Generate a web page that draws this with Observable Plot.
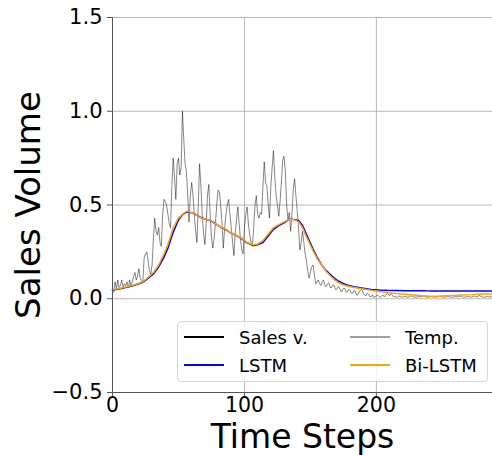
<!DOCTYPE html>
<html><head><meta charset="utf-8">
<script src="https://cdn.jsdelivr.net/npm/d3@7"></script>
<script src="https://cdn.jsdelivr.net/npm/@observablehq/plot@0.6"></script>
<style>
html,body{margin:0;padding:0;background:#fff;}
#wrap{position:relative;width:492px;height:455px;font-family:"DejaVu Sans",sans-serif;}
.legend{position:absolute;left:177px;top:321px;width:311px;height:61px;border:1px solid #d6d6d6;border-radius:4px;background:rgba(255,255,255,0.8);box-sizing:border-box;font-size:18px;color:#000;}
.item{position:absolute;height:22px;display:flex;align-items:center;white-space:nowrap;}
.sw{display:inline-block;width:40px;height:2px;margin-right:15px;}
</style>
</head><body>
<div id="wrap"></div>
<script>
// Noisy observed series (Sales v.)
const salesT = [];
const salesV = [
0.03,0.04,0.09,0.05,0.10,0.06,0.07,0.10,0.06,0.08,
0.07,0.09,0.06,0.10,0.07,0.09,0.12,0.14,0.10,0.12,
0.16,0.11,0.10,0.09,0.22,0.24,0.25,0.20,0.15,0.13,
0.18,0.32,0.43,0.36,0.34,0.38,0.30,0.28,0.45,0.53,
0.52,0.50,0.45,0.40,0.38,0.60,0.75,0.65,0.53,0.72,
0.75,0.66,0.70,1.00,0.85,0.72,0.68,0.55,0.41,0.55,
0.62,0.55,0.45,0.36,0.30,0.50,0.72,0.60,0.45,0.35,
0.29,0.40,0.55,0.61,0.45,0.33,0.27,0.32,0.40,0.50,
0.58,0.57,0.50,0.40,0.27,0.38,0.45,0.50,0.53,0.45,
0.38,0.30,0.23,0.35,0.42,0.49,0.40,0.32,0.26,0.24,
0.38,0.45,0.49,0.40,0.34,0.30,0.28,0.38,0.50,0.55,
0.45,0.43,0.46,0.45,0.60,0.73,0.62,0.60,0.50,0.43,
0.60,0.70,0.79,0.65,0.55,0.50,0.44,0.52,0.62,0.74,
0.76,0.68,0.50,0.42,0.46,0.36,0.45,0.58,0.64,0.55,
0.47,0.38,0.26,0.30,0.36,0.30,0.24,0.20,0.15,0.11,
0.14,0.17,0.18,0.13,0.08,0.09,0.10,0.08,0.07,0.09,
0.10,0.07,0.065,0.08,0.085,0.06,0.06,0.075,0.07,0.05,
0.05,0.065,0.06,0.04,0.04,0.055,0.055,0.035,0.035,0.05,
0.045,0.03,0.03,0.045,0.04,0.02,0.02,0.04,0.045,0.053,
0.03,0.02,0.015,0.03,0.025,0.012,0.01,0.02,0.007,0.01,
0.015,0.02,0.012,0.008,0.015,0.02,0.01,0.02,0.028,0.025,
0.015,0.028,0.02,0.01,0.012,0.008,0.01,0.015,0.012,0.008,
0.01
];
for (let i = 0; i < salesV.length; i++) salesT.push(i);
const salesT2 = [222,224,226,228,230,232,234,236,238,240,242,244,246,248,250,252,254,256,258,260,262,264,266,268,270,272,274,276,278,280,282,284,286,288];
const salesV2 = [0.012,0.008,0.015,0.01,0.008,0.012,0.01,0.015,0.008,0.01,0.012,0.008,0.01,0.014,0.01,0.008,0.012,0.01,0.008,0.012,0.01,0.015,0.008,0.01,0.012,0.008,0.015,0.01,0.018,0.01,0.008,0.012,0.01,0.01];

// Model predictions
const predT  = [0,5,10,16,20,24,31,35,39,42,46,50,53,56,61,66,70,74,78,82,86,89,93,97,102,107,110,114,118,122,126,130,134,138,141,144,146,149,152,155,159,162,165,168,171,174,177,183,190,196,202,208,215,222,228,235,240,246,253,259,265,272,278,283,288];
const lstmV  = [0.045,0.052,0.060,0.070,0.080,0.092,0.132,0.170,0.222,0.270,0.355,0.420,0.448,0.462,0.458,0.436,0.425,0.418,0.400,0.382,0.368,0.354,0.340,0.325,0.298,0.284,0.288,0.300,0.335,0.370,0.390,0.405,0.425,0.422,0.418,0.392,0.360,0.312,0.265,0.222,0.175,0.150,0.130,0.110,0.095,0.084,0.075,0.064,0.056,0.050,0.047,0.045,0.044,0.043,0.043,0.043,0.042,0.042,0.042,0.042,0.042,0.042,0.042,0.042,0.042];
const biLstmV= [0.048,0.055,0.063,0.073,0.082,0.096,0.140,0.180,0.240,0.290,0.380,0.430,0.450,0.466,0.460,0.434,0.425,0.420,0.400,0.384,0.370,0.354,0.340,0.327,0.300,0.288,0.292,0.310,0.345,0.380,0.395,0.410,0.425,0.420,0.410,0.380,0.345,0.300,0.256,0.215,0.176,0.145,0.123,0.102,0.087,0.076,0.069,0.060,0.052,0.045,0.039,0.034,0.028,0.024,0.020,0.016,0.013,0.013,0.016,0.018,0.020,0.022,0.025,0.025,0.025];

const xTicks = [0, 100, 200];
const yTicks = [-0.5, 0, 0.5, 1.0, 1.5];
const legendItems = [
  {label: "Sales v.", color: "#000000"},
  {label: "Temp.", color: "#a0a0a0"},
  {label: "LSTM", color: "#0000ff"},
  {label: "Bi-LSTM", color: "#ffa500"}
];

const salesData = salesT.map((t, i) => ({t, v: salesV[i]}))
  .concat(salesT2.map((t, i) => ({t, v: salesV2[i]})));
const predData = predT.map((t, i) => ({t, lstm: lstmV[i], bi: biLstmV[i]}));

const chart = Plot.plot({
  width: 492, height: 455,
  marginLeft: 112, marginRight: 0, marginTop: 17, marginBottom: 63,
  style: {fontFamily: "DejaVu Sans", background: "white", color: "black"},
  x: {domain: [0, 288]},
  y: {domain: [-0.5, 1.5]},
  marks: [
    Plot.gridX(xTicks, {stroke: "#b0b0b0", strokeOpacity: 0.9}),
    Plot.gridY(yTicks, {stroke: "#b0b0b0", strokeOpacity: 0.9}),
    Plot.line(salesData, {x: "t", y: "v", stroke: "#000", strokeOpacity: 0.6, strokeWidth: 0.8}),
    Plot.line(predData, {x: "t", y: "lstm", stroke: "#0000ff", strokeWidth: 1.5}),
    Plot.line(predData, {x: "t", y: "bi", stroke: "#ffa500", strokeWidth: 1.5}),
    Plot.ruleX([0], {stroke: "#555"}),
    Plot.ruleY([-0.5], {stroke: "#555"}),
    Plot.axisX({ticks: xTicks, tickSize: 5, tickPadding: 0, fontSize: 20.5, label: null, stroke: "#555"}),
    Plot.axisX({ticks: [], label: "Time Steps", labelAnchor: "center", labelOffset: 55, fontSize: 33, labelArrow: false}),
    Plot.axisY({ticks: yTicks, tickFormat: d3.format(".1f"), tickSize: 5, tickPadding: 5, fontSize: 21, label: null, stroke: "#555"}),
    Plot.axisY({ticks: [], label: "Sales Volume", labelAnchor: "center", labelOffset: 97, fontSize: 34, labelArrow: false})
  ]
});
const wrap = document.getElementById("wrap");
wrap.appendChild(chart);

const leg = document.createElement("div");
leg.className = "legend";
const pos = [[6, 4], [172, 4], [6, 32], [172, 32]];
legendItems.forEach((d, i) => {
  const it = document.createElement("div");
  it.className = "item";
  it.style.left = pos[i][0] + "px";
  it.style.top = pos[i][1] + "px";
  const sw = document.createElement("span");
  sw.className = "sw";
  sw.style.background = d.color;
  const tx = document.createElement("span");
  tx.textContent = d.label;
  it.appendChild(sw); it.appendChild(tx);
  leg.appendChild(it);
});
wrap.appendChild(leg);
</script>
</body></html>
